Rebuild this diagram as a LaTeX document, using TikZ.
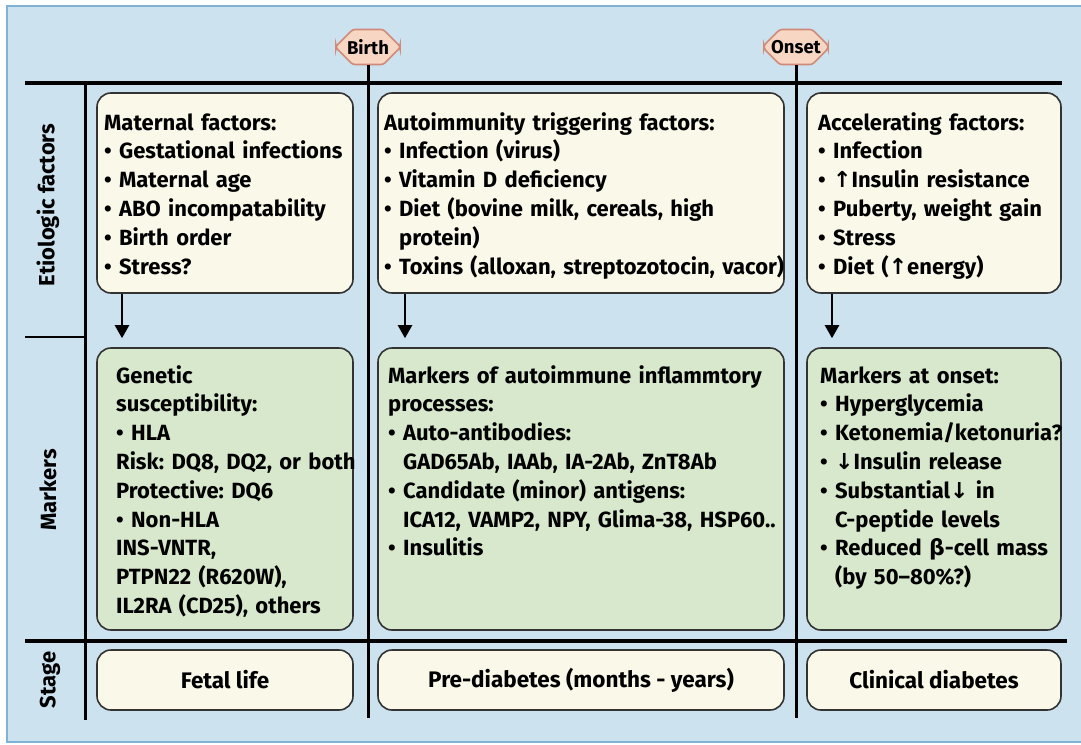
\documentclass[tikz,border=0pt]{standalone}
\usepackage{fontspec}
\setmainfont{Fira Sans}
\newfontfamily\symfont{DejaVu Sans}
\usetikzlibrary{shapes.misc,arrows.meta}
\definecolor{bgblue}{HTML}{CCE2EF}
\definecolor{bgedge}{HTML}{7FB2D4}
\definecolor{cream}{HTML}{FAF8E8}
\definecolor{mint}{HTML}{D7E8CD}
\definecolor{boxedge}{HTML}{333333}
\definecolor{octfill}{HTML}{F7D7C3}
\definecolor{octedge}{HTML}{D08A78}
\newcommand{\up}{{\symfont ↑}}
\newcommand{\dn}{{\symfont ↓}}
\newcommand{\ind}{\phantom{• }}
\tikzset{
  box/.style={draw=boxedge, line width=1.6pt, rounded corners=14pt, inner sep=0pt},
  cbox/.style={box, fill=cream},
  gbox/.style={box, fill=mint},
  stagebox/.style={cbox, font=\bfseries\fontsize{22.5}{24}\selectfont},
  txt/.style={anchor=base west, align=left, inner sep=0pt, text width=460pt},
  oct/.style={chamfered rectangle, chamfered rectangle xsep=9pt, chamfered rectangle ysep=9pt,
    rounded corners=2.5pt,
    fill=octfill, draw=octedge, line width=1.6pt, minimum width=64pt, minimum height=35pt, inner sep=0pt,
    font=\bfseries\fontsize{18.5}{20}\selectfont},
  hline/.style={line width=4.5pt},
  vline/.style={line width=3pt},
  thinline/.style={line width=2.5pt},
  arr/.style={line width=2.4pt, -{Triangle[width=14pt,length=13pt]}, shorten >=9pt},
  rowlab/.style={rotate=90, inner sep=0pt, font=\bfseries\fontsize{22}{24}\selectfont}
}
\begin{document}
\frenchspacing
\begin{tikzpicture}[x=1pt,y=-1pt, font=\bfseries\fontsize{22}{28.8}\selectfont]
\useasboundingbox (0,0) rectangle (1081,744);
\fill[white] (0,0) rectangle (1081,744);
\fill[bgblue] (7,6) rectangle (1081,742);
\draw[bgedge, line width=1.5pt] (1081,6) -- (7,6) -- (7,742) -- (1081,742);

% frame lines
\coordinate (tl) at (25,83);
\coordinate (tr) at (1062,83);
\coordinate (ml) at (25,641);
\coordinate (mr) at (1067,641);
\coordinate (axtop) at (85,83);
\coordinate (axbot) at (85,720);
\coordinate (sepl) at (25,337);
\coordinate (sepr) at (85,337);
\coordinate (vbot) at (0,718);

\node[oct] (birth) at (368,47) {Birth};
\node[oct] (onset) at (796,47) {Onset};

\draw[hline] (tl) -- (tr);
\draw[hline] (ml) -- (mr);
\draw[vline] (axtop) -- (axbot);
\draw[thinline] (sepl) -- (sepr);
\draw[vline] (birth.south) -- (birth.south |- vbot);
\draw[vline] (onset.south) -- (onset.south |- vbot);

% row labels
\node[rowlab] (lab1) at (48,205) {Etiologic factors};
\node[rowlab] (lab2) at (48,490) {Markers};
\node[rowlab] (lab3) at (50,680) {Stage};

% row 1 boxes
\node[cbox, minimum width=256pt, minimum height=200pt] (m1) at (225,193) {};
\node[cbox, minimum width=406pt, minimum height=200pt] (m2) at (581,193) {};
\node[cbox, minimum width=254pt, minimum height=200pt] (m3) at (934,193) {};

% row 2 boxes
\node[gbox, minimum width=256pt, minimum height=282pt] (g1) at (225,489) {};
\node[gbox, minimum width=406pt, minimum height=282pt] (g2) at (581,489) {};
\node[gbox, minimum width=254pt, minimum height=282pt] (g3) at (934,489) {};

% row 3 boxes
\node[stagebox, minimum width=256pt, minimum height=60pt] (s1) at (225,680) {Fetal life};
\node[stagebox, minimum width=406pt, minimum height=60pt] (s2) at (581,680) {Pre-diabetes (months - years)};
\node[stagebox, minimum width=254pt, minimum height=60pt] (s3) at (934,680) {Clinical diabetes};

% arrows
\coordinate (a1) at (122,0);
\coordinate (a2) at (405,0);
\coordinate (a3) at (832,0);
\draw[arr] (m1.south -| a1) -- (g1.north -| a1);
\draw[arr] (m2.south -| a2) -- (g2.north -| a2);
\draw[arr] (m3.south -| a3) -- (g3.north -| a3);

% texts row 1
\node[txt] (t1) at (104,130) {Maternal factors:\\
• Gestational infections\\
• Maternal age\\
• ABO incompatability\\
• Birth order\\
• Stress?};
\node[txt] (t2) at (384,130) {Autoimmunity triggering factors:\\
• Infection (virus)\\
• Vitamin D deficiency\\
• Diet (bovine milk, cereals, high\\
\ind protein)\\
• Toxins (alloxan, streptozotocin, vacor)};
\node[txt] (t3) at (818,130) {Accelerating factors:\\
• Infection\\
• \up Insulin resistance\\
• Puberty, weight gain\\
• Stress\\
• Diet (\up energy)};

% texts row 2
\node[txt] (u1) at (116,383) {Genetic\\
susceptibility:\\
• HLA\\
Risk: DQ8, DQ2, or both\\
Protective: DQ6\\
• Non-HLA\\
INS-VNTR,\\
PTPN22 (R620W),\\
IL2RA (CD25), others};
\node[txt] (u2) at (388,383) {Markers of autoimmune inflammtory\\
processes:\\
• Auto-antibodies:\\
\ind GAD65Ab, IAAb, IA-2Ab, ZnT8Ab\\
• Candidate (minor) antigens:\\
\ind ICA12, VAMP2, NPY, Glima-38, HSP60..\\
• Insulitis};
\node[txt] (u3) at (820,383) {Markers at onset:\\
• Hyperglycemia\\
• Ketonemia/ketonuria?\\
• \dn Insulin release\\
• Substantial\dn\ in\\
\ind C-peptide levels\\
• Reduced {\symfont β}-cell mass\\
\ind (by 50--80\%?)};
\end{tikzpicture}
\end{document}
